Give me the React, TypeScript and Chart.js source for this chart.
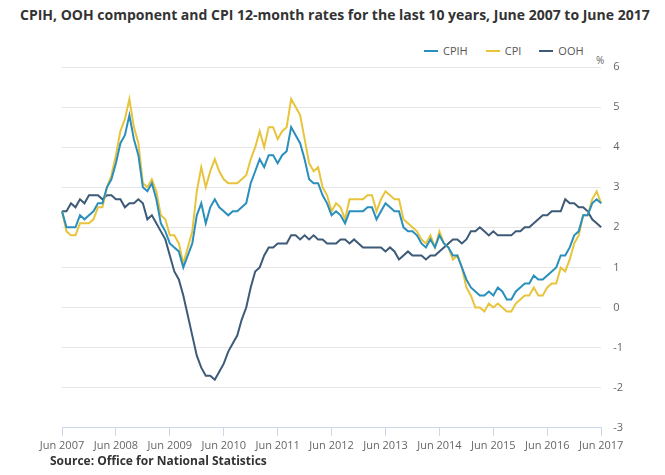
import React, { useEffect, useRef } from "react";
import { Chart, registerables } from "chart.js";
Chart.register(...registerables);

const MONTHS = ["Jun","Jul","Aug","Sep","Oct","Nov","Dec","Jan","Feb","Mar","Apr","May"];
const START_YEAR = 2007;
const labels: string[] = [];
for (let i = 0; i <= 120; i++) {
  const m = MONTHS[i % 12];
  const y = START_YEAR + Math.floor(i / 12) + (i % 12 >= 7 ? 1 : 0);
  labels.push(m + " " + y);
}

const cpih = [
  2.4,2.0,2.0,2.0,2.3,2.2,2.3,2.4,2.6,2.6,3.0,3.2,
  3.6,4.1,4.3,4.8,4.2,3.8,3.0,2.9,3.1,2.7,2.1,1.9,
  1.6,1.5,1.4,1.0,1.3,1.6,2.3,2.6,2.1,2.5,2.7,2.5,
  2.4,2.3,2.4,2.4,2.5,2.6,3.1,3.4,3.7,3.5,3.8,3.8,
  3.6,3.8,3.9,4.5,4.3,4.1,3.7,3.2,3.1,3.1,2.8,2.6,
  2.3,2.4,2.3,2.1,2.4,2.4,2.4,2.4,2.5,2.5,2.2,2.4,
  2.6,2.5,2.4,2.4,2.0,1.9,1.9,1.8,1.6,1.5,1.7,1.5,
  1.8,1.6,1.5,1.3,1.3,1.0,0.7,0.5,0.4,0.3,0.3,0.4,
  0.3,0.5,0.4,0.2,0.2,0.4,0.5,0.6,0.6,0.8,0.7,0.7,
  0.8,0.9,1.0,1.3,1.3,1.5,1.8,1.9,2.3,2.3,2.6,2.7,
  2.6,
];
const cpi = [
  2.4,1.9,1.8,1.8,2.1,2.1,2.1,2.2,2.5,2.5,3.0,3.3,
  3.8,4.4,4.7,5.2,4.5,4.1,3.1,3.0,3.2,2.9,2.3,2.2,
  1.8,1.8,1.6,1.1,1.5,1.9,2.9,3.5,3.0,3.4,3.7,3.4,
  3.2,3.1,3.1,3.1,3.2,3.3,3.7,4.0,4.4,4.0,4.5,4.5,
  4.2,4.4,4.5,5.2,5.0,4.8,4.2,3.6,3.4,3.5,3.0,2.8,
  2.4,2.6,2.5,2.2,2.7,2.7,2.7,2.7,2.8,2.8,2.4,2.7,
  2.9,2.8,2.7,2.7,2.2,2.1,2.0,1.9,1.7,1.6,1.8,1.5,
  1.9,1.6,1.5,1.2,1.3,1.0,0.5,0.3,0.0,0.0,-0.1,0.1,
  0.0,0.1,0.0,-0.1,-0.1,0.1,0.2,0.3,0.3,0.5,0.3,0.3,
  0.5,0.6,0.6,1.0,0.9,1.2,1.6,1.8,2.3,2.3,2.7,2.9,
  2.6,
];
const ooh = [
  2.4,2.4,2.6,2.5,2.7,2.6,2.8,2.8,2.8,2.7,2.8,2.8,
  2.7,2.7,2.5,2.6,2.6,2.7,2.6,2.2,2.3,2.1,1.9,1.7,
  1.3,0.9,0.7,0.3,-0.2,-0.7,-1.2,-1.5,-1.7,-1.7,-1.8,-1.6,
  -1.4,-1.1,-0.9,-0.7,-0.3,0.0,0.5,0.9,1.0,1.3,1.5,1.5,
  1.6,1.6,1.6,1.8,1.8,1.7,1.8,1.7,1.8,1.7,1.7,1.6,
  1.6,1.6,1.7,1.7,1.6,1.7,1.6,1.5,1.5,1.5,1.5,1.5,
  1.4,1.5,1.4,1.2,1.3,1.4,1.3,1.3,1.3,1.2,1.3,1.3,
  1.4,1.5,1.6,1.7,1.7,1.6,1.7,1.9,1.9,2.0,1.9,1.8,
  1.9,1.8,1.8,1.8,1.8,1.9,1.9,2.0,2.0,2.1,2.2,2.3,
  2.3,2.4,2.4,2.4,2.7,2.6,2.6,2.5,2.5,2.4,2.2,2.1,
  2.0,
];

const SERIES = [
  { label: "CPIH", data: cpih, color: "#2a8fbd" },
  { label: "CPI", data: cpi, color: "#e8c43c" },
  { label: "OOH", data: ooh, color: "#3d5a78" },
];

const FONT = "'Open Sans', 'Noto Sans', sans-serif";

export default function App() {
  const ref = useRef<HTMLCanvasElement>(null);
  useEffect(() => {
    if (!ref.current) return;
    const chart = new Chart(ref.current, {
      type: "line",
      data: {
        labels,
        datasets: SERIES.map((s) => ({
          label: s.label, data: s.data, borderColor: s.color, backgroundColor: s.color,
          borderWidth: 2, pointRadius: 0, tension: 0,
        })),
      },
      options: {
        animation: false,
        responsive: false,
        layout: { padding: { left: 62, right: 30, top: 42, bottom: 0 } },
        plugins: { legend: { display: false }, tooltip: { enabled: false } },
        scales: {
          x: {
            grid: {
              drawOnChartArea: false,
              drawTicks: true,
              tickLength: 8,
              color: (c: any) => (c.index % 12 === 0 ? "#ccd6eb" : "transparent"),
            },
            border: { color: "#ccd6eb" },
            ticks: {
              autoSkip: false,
              maxRotation: 0,
              color: "#666",
              font: { family: FONT, size: 11 },
              callback: (_v: any, i: number) => (i % 12 === 0 ? labels[i] : ""),
            },
          },
          y: {
            position: "right",
            min: -3,
            max: 6,
            ticks: { stepSize: 1, color: "#666", font: { family: FONT, size: 11 }, padding: 12 },
            grid: { color: "#e6e6e6", drawTicks: false },
            border: { display: false },
          },
        },
      },
    });
    return () => chart.destroy();
  }, []);
  return (
    <div style={{ position: "absolute", left: 0, top: 0, width: 665, height: 475, background: "#fff", fontFamily: FONT }}>
      <div style={{ position: "absolute", left: 20, top: 5, fontSize: 14, fontWeight: 700, color: "#333", whiteSpace: "nowrap" }}>
        CPIH, OOH component and CPI 12-month rates for the last 10 years, June 2007 to June 2017
      </div>
      <div style={{ position: "absolute", left: 424, top: 43, display: "flex", gap: 18, fontSize: 11, color: "#555" }}>
        {SERIES.map((s) => (
          <div key={s.label} style={{ display: "flex", alignItems: "center", gap: 5 }}>
            <span style={{ display: "inline-block", width: 14, height: 2, background: s.color }} />
            <span>{s.label}</span>
          </div>
        ))}
      </div>
      <span style={{ position: "absolute", left: 596, top: 53, fontSize: 10, color: "#666" }}>%</span>
      <canvas ref={ref} width={665} height={430} style={{ position: "absolute", left: 0, top: 25 }} />
      <div style={{ position: "absolute", left: 50, top: 452, fontSize: 12, fontWeight: 700, color: "#333" }}>
        Source: Office for National Statistics
      </div>
    </div>
  );
}
